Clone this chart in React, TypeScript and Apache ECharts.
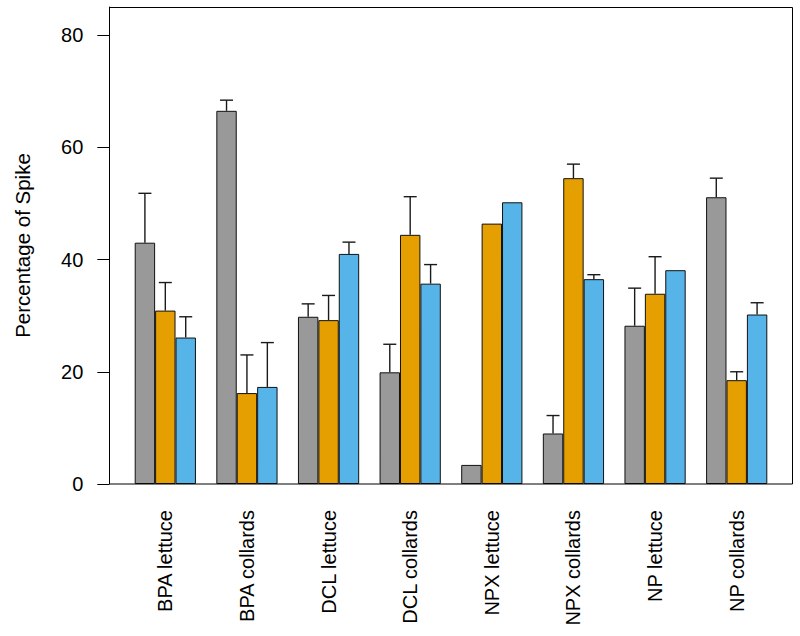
import React, { useEffect, useRef } from "react";
import * as echarts from "echarts";

const categories = [
  "BPA lettuce",
  "BPA collards",
  "DCL lettuce",
  "DCL collards",
  "NPX lettuce",
  "NPX collards",
  "NP lettuce",
  "NP collards",
];

const grayValues = [43.0, 66.5, 29.8, 19.9, 3.4, 9.0, 28.2, 51.1];
const orangeValues = [30.9, 16.2, 29.2, 44.4, 46.4, 54.5, 33.9, 18.5];
const blueValues = [26.1, 17.3, 41.0, 35.7, 50.2, 36.5, 38.1, 30.2];

const grayErrors = [8.8, 1.9, 2.3, 5.0, 0, 3.2, 6.7, 3.4];
const orangeErrors = [5.0, 6.8, 4.4, 6.8, 0, 2.5, 6.6, 1.5];
const blueErrors = [3.7, 7.9, 2.1, 3.4, 0, 0.8, 0, 2.1];

const yTicks = [0, 20, 40, 60, 80];

const colors = ["#999999", "#E69F00", "#56B4E9"];
const FONT = "Liberation Sans, Arial, Helvetica, sans-serif";

function errSeries(values: number[], errors: number[], k: number) {
  return {
    type: "custom",
    z: 5,
    data: values.map((v, i) => [i, v, errors[i]]),
    renderItem: (params: any, api: any) => {
      const xi = api.value(0);
      const v = api.value(1);
      const e = api.value(2);
      if (!e) return null;
      const base = api.coord([xi, v]);
      const top = api.coord([xi, v + e]);
      const band = api.size([1, 0])[0];
      const x = base[0] + ((k - 1) * band) / 4;
      const cap = 6.5;
      const style = { stroke: "#1a1a1a", lineWidth: 1.4 };
      return {
        type: "group",
        children: [
          { type: "line", shape: { x1: x, y1: base[1], x2: x, y2: top[1] }, style },
          { type: "line", shape: { x1: x - cap, y1: top[1], x2: x + cap, y2: top[1] }, style },
        ],
      };
    },
  };
}

export default function App() {
  const ref = useRef<HTMLDivElement>(null);
  useEffect(() => {
    if (!ref.current) return;
    const chart = echarts.init(ref.current, null, { renderer: "svg" });
    const barSeries = [grayValues, orangeValues, blueValues].map((vals, k) => ({
      type: "bar",
      data: vals,
      barGap: "0%",
      barCategoryGap: "25%",
      itemStyle: { color: colors[k], borderColor: "#111", borderWidth: 1 },
      z: 2,
    }));
    chart.setOption({
      animation: false,
      backgroundColor: "#fff",
      textStyle: { fontFamily: FONT },
      grid: { left: 124.5, right: 22.5, top: 7, bottom: 152, containLabel: false },
      xAxis: {
        type: "category",
        data: categories,
        axisLine: { show: false },
        axisTick: { show: false },
        axisLabel: {
          rotate: 90,
          margin: 26,
          fontSize: 20,
          color: "#000",
          fontFamily: FONT,
          interval: 0,
        },
      },
      yAxis: {
        type: "value",
        min: 0,
        max: 85,
        offset: 15.2,
        splitLine: { show: false },
        axisLine: { show: true, lineStyle: { color: "#000", width: 1 } },
        axisTick: {
          show: true,
          length: 12,
          inside: false,
          customValues: yTicks,
          lineStyle: { color: "#000", width: 1 },
        },
        axisLabel: {
          customValues: yTicks,
          margin: 26,
          fontSize: 20,
          color: "#000",
          fontFamily: FONT,
        },
      },
      graphic: [
        {
          type: "rect",
          shape: { x: 109.5, y: 7.5, width: 683, height: 476.5 },
          style: { fill: "none", stroke: "#000", lineWidth: 1 },
          z: 10,
          silent: true,
        },
        {
          type: "text",
          x: 22.5,
          y: 245.5,
          rotation: Math.PI / 2,
          style: {
            text: "Percentage of Spike",
            fontSize: 20.5,
            fontFamily: FONT,
            fill: "#000",
            textAlign: "center",
            textVerticalAlign: "middle",
          },
        },
      ],
      series: [
        ...barSeries,
        errSeries(grayValues, grayErrors, 0),
        errSeries(orangeValues, orangeErrors, 1),
        errSeries(blueValues, blueErrors, 2),
      ],
    });
    return () => chart.dispose();
  }, []);
  return (
    <div
      ref={ref}
      style={{ position: "absolute", left: 0, top: 0, width: 800, height: 636 }}
    />
  );
}
